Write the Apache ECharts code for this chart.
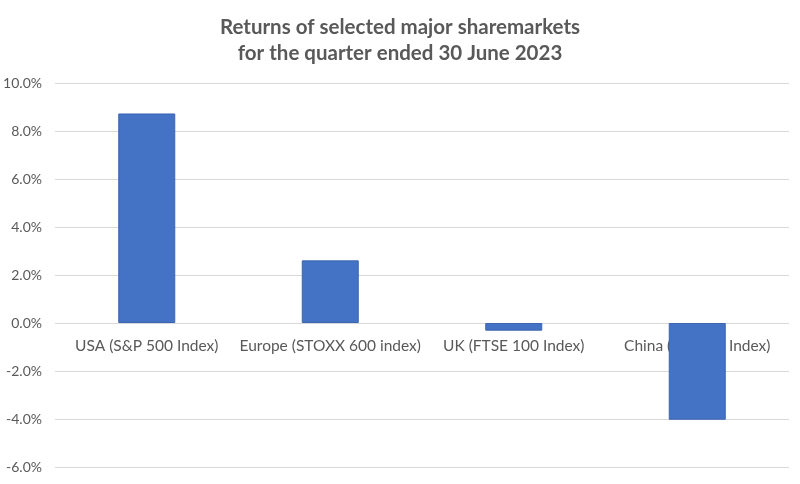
<!DOCTYPE html>
<html><head><meta charset="utf-8">
<script src="https://cdn.jsdelivr.net/npm/echarts@6/dist/echarts.min.js"></script>
<style>html,body{margin:0;padding:0;background:#fff}#c{width:800px;height:484px}</style>
</head><body><div id="c"></div>
<script>
const categories = ["USA (S&P 500 Index)", "Europe (STOXX 600 index)", "UK (FTSE 100 Index)", "China (CSI 300 Index)"];
const returns = [8.73, 2.61, -0.32, -4.03];
const titleLines = ["Returns of selected major sharemarkets", "for the quarter ended 30 June 2023"];
const yMin = -6, yMax = 10, yStep = 2;

const W = 800, H = 484;
const gTop = 83, gBottom = 17;
const plotH = H - gTop - gBottom;
const zeroOffset = -((0 - yMin) / (yMax - yMin)) * plotH;

const chart = echarts.init(document.getElementById('c'));
chart.setOption({
  animation: false,
  backgroundColor: '#fff',
  title: {
    text: titleLines.join('\n'),
    left: 'center', top: 9,
    textStyle: {fontFamily: 'Lato', fontWeight: 'bold', fontSize: 20.5, color: '#595959', lineHeight: 26}
  },
  grid: {left: 55, right: 11, top: gTop, bottom: gBottom, containLabel: false, outerBoundsMode: 'none'},
  xAxis: {
    type: 'category', data: categories, position: 'bottom', offset: zeroOffset,
    axisLine: {show: false, onZero: false},
    axisTick: {show: false},
    axisLabel: {color: '#595959', fontFamily: 'Lato', fontSize: 15.5, margin: 15, interval: 0}
  },
  yAxis: {
    type: 'value', min: yMin, max: yMax, interval: yStep,
    axisLine: {show: false}, axisTick: {show: false},
    axisLabel: {color: '#595959', fontFamily: 'Lato', fontSize: 14, margin: 13,
      formatter: v => v.toFixed(1) + '%'},
    splitLine: {lineStyle: {color: '#d9d9d9', width: 1}}
  },
  series: [{
    type: 'bar', data: returns, barWidth: 57,
    itemStyle: {color: '#4472c4', borderColor: '#3b65b0', borderWidth: 1}
  }]
});
</script></body></html>
